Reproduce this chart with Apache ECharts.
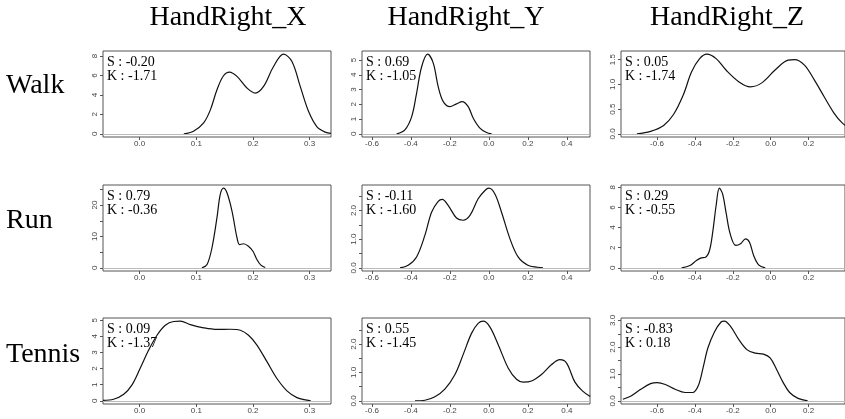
<!DOCTYPE html>
<html><head><meta charset="utf-8">
<script src="https://cdn.jsdelivr.net/npm/echarts@6/dist/echarts.min.js"></script>
<style>html,body{margin:0;padding:0;background:#fff}#c{width:845px;height:419px}</style>
</head><body><div id="c"></div>
<script>
const rowNames = ['Walk', 'Run', 'Tennis'];
const colNames = ['HandRight_X', 'HandRight_Y', 'HandRight_Z'];
const skewness = [['-0.20', '0.69', '0.05'], ['0.79', '-0.11', '0.29'], ['0.09', '0.55', '-0.83']];
const kurtosis = [['-1.71', '-1.05', '-1.74'], ['-0.36', '-1.60', '-0.55'], ['-1.37', '-1.45', '0.18']];

// x-axis limits and tick values per column
const xLimits = [[-0.0646, 0.3377], [-0.651, 0.519], [-0.790, 0.392]];
const xTicks = [[0.0, 0.1, 0.2, 0.3], [-0.6, -0.4, -0.2, 0.0, 0.2, 0.4], [-0.6, -0.4, -0.2, 0.0, 0.2]];

// density curves (value, density)
const walkX_x = [0.078, 0.095, 0.113, 0.125, 0.1365, 0.148, 0.1587, 0.1718, 0.1894, 0.204, 0.2187, 0.2363, 0.254, 0.2688, 0.2834, 0.298, 0.313, 0.3276, 0.3377];
const walkX_y = [0.0, 0.27, 1.13, 2.49, 4.54, 5.98, 6.36, 5.91, 4.72, 4.2, 4.88, 6.93, 8.2, 7.45, 4.88, 2.32, 0.72, 0.17, 0.05];
const walkY_x = [-0.473, -0.431, -0.396, -0.371, -0.345, -0.314, -0.285, -0.26, -0.234, -0.2, -0.166, -0.137, -0.106, -0.08, -0.046, -0.012, 0.014];
const walkY_y = [0.0, 0.27, 1.17, 2.75, 4.55, 5.4, 4.78, 3.2, 2.18, 1.84, 2.03, 2.18, 1.84, 1.06, 0.39, 0.09, 0.0];
const walkZ_x = [-0.706, -0.634, -0.565, -0.513, -0.461, -0.418, -0.375, -0.337, -0.288, -0.236, -0.167, -0.107, -0.047, 0.023, 0.092, 0.126, 0.178, 0.23, 0.282, 0.334, 0.377, 0.42];
const walkZ_y = [0.0, 0.05, 0.17, 0.39, 0.79, 1.25, 1.52, 1.61, 1.52, 1.29, 1.05, 0.95, 1.03, 1.29, 1.49, 1.5, 1.39, 1.09, 0.75, 0.42, 0.22, 0.1];
const runX_x = [0.11, 0.119, 0.1277, 0.1365, 0.1423, 0.148, 0.154, 0.163, 0.1718, 0.1764, 0.1834, 0.192, 0.2, 0.207, 0.214, 0.2217];
const runX_y = [0.0, 1.05, 6.4, 16.0, 23.4, 25.4, 24.0, 18.1, 9.6, 7.4, 7.67, 6.9, 5.3, 2.65, 0.84, 0.1];
const runY_x = [-0.456, -0.414, -0.371, -0.328, -0.294, -0.26, -0.239, -0.209, -0.166, -0.132, -0.097, -0.055, -0.02, 0.0, 0.031, 0.065, 0.108, 0.15, 0.2, 0.25, 0.278];
const runY_y = [0.0, 0.09, 0.38, 1.14, 1.94, 2.32, 2.39, 2.18, 1.74, 1.66, 1.83, 2.41, 2.7, 2.78, 2.58, 1.94, 1.02, 0.38, 0.09, 0.02, 0.0];
const runZ_x = [-0.47, -0.426, -0.392, -0.366, -0.344, -0.323, -0.306, -0.288, -0.271, -0.254, -0.236, -0.214, -0.184, -0.159, -0.133, -0.112, -0.09, -0.064, -0.029];
const runZ_y = [0.0, 0.23, 0.73, 0.99, 1.05, 1.72, 3.54, 6.19, 7.91, 7.35, 5.53, 3.38, 2.22, 2.39, 2.88, 2.54, 1.22, 0.3, 0.0];
const tenX_x = [-0.0646, -0.046, -0.028, -0.0134, 0.001, 0.016, 0.0307, 0.0453, 0.06, 0.0718, 0.0894, 0.113, 0.1365, 0.16, 0.1776, 0.1922, 0.207, 0.2247, 0.242, 0.26, 0.2776, 0.295, 0.302];
const tenX_y = [0.03, 0.1, 0.41, 0.99, 2.02, 3.15, 4.07, 4.69, 4.92, 4.94, 4.73, 4.53, 4.43, 4.44, 4.38, 4.07, 3.46, 2.43, 1.4, 0.62, 0.2, 0.04, 0.0];
const tenY_x = [-0.379, -0.328, -0.277, -0.226, -0.174, -0.132, -0.089, -0.055, -0.029, 0.005, 0.048, 0.099, 0.142, 0.176, 0.219, 0.27, 0.322, 0.364, 0.398, 0.441, 0.48, 0.52];
const tenY_y = [0.0, 0.02, 0.14, 0.41, 0.93, 1.63, 2.38, 2.73, 2.81, 2.61, 1.98, 1.16, 0.76, 0.66, 0.7, 0.93, 1.28, 1.45, 1.34, 0.67, 0.35, 0.15];
const tenZ_x = [-0.78, -0.737, -0.686, -0.634, -0.599, -0.556, -0.504, -0.452, -0.412, -0.383, -0.357, -0.332, -0.297, -0.262, -0.245, -0.21, -0.167, -0.124, -0.081, -0.038, -0.003, 0.031, 0.066, 0.1, 0.144, 0.195];
const tenZ_y = [0.06, 0.18, 0.43, 0.64, 0.68, 0.61, 0.43, 0.31, 0.31, 0.55, 1.23, 1.96, 2.57, 2.94, 2.97, 2.76, 2.27, 1.9, 1.78, 1.74, 1.6, 1.17, 0.68, 0.31, 0.09, 0.0];

// y tick values and labelled ticks per panel (row-major)
const yTicks = [[0, 2, 4, 6, 8], [0, 1, 2, 3, 4, 5], [0, 0.5, 1, 1.5],
                [0, 5, 10, 15, 20, 25], [0, 0.5, 1, 1.5, 2, 2.5], [0, 2, 4, 6, 8],
                [0, 1, 2, 3, 4, 5], [0, 0.5, 1, 1.5, 2, 2.5], [0, 0.5, 1, 1.5, 2, 2.5, 3]];
const yLabels = [[0, 2, 4, 6, 8], [0, 1, 2, 3, 4, 5], [0, 0.5, 1, 1.5],
                 [0, 10, 20], [0, 1, 2], [0, 2, 4, 6, 8],
                 [0, 1, 2, 3, 4, 5], [0, 1, 2], [0, 1, 2, 3]];
const yDecimals = [0, 0, 1, 0, 1, 0, 0, 1, 1];

const curvesX = [walkX_x, walkY_x, walkZ_x, runX_x, runY_x, runZ_x, tenX_x, tenY_x, tenZ_x];
const curvesY = [walkX_y, walkY_y, walkZ_y, runX_y, runY_y, runZ_y, tenX_y, tenY_y, tenZ_y];

const colLeft = [103, 362, 621];
const rowTop = [51, 185, 318];
const boxW = 228, boxH = 86;
const tickFont = 'Liberation Sans, Arial, sans-serif';
const serif = 'Liberation Serif, Times New Roman, serif';

const grids = [], xAxes = [], yAxes = [], series = [], graphics = [];
for (let r = 0; r < 3; r++) {
  for (let c = 0; c < 3; c++) {
    const i = r * 3 + c;
    const ys = curvesY[i];
    const M = Math.max.apply(null, ys);
    grids.push({left: colLeft[c], top: rowTop[r], width: boxW, height: boxH, show: true,
                borderColor: '#555', borderWidth: 1, backgroundColor: 'transparent'});
    xAxes.push({type: 'value', gridIndex: i, min: xLimits[c][0], max: xLimits[c][1], position: 'bottom',
      axisLine: {show: false, onZero: false}, splitLine: {show: false},
      axisTick: {show: true, length: 3, customValues: xTicks[c], lineStyle: {color: '#555'}},
      axisLabel: {customValues: xTicks[c], formatter: v => Number(v).toFixed(1), fontSize: 8,
                  color: '#444', margin: 3, fontFamily: tickFont}});
    const dec = yDecimals[i];
    yAxes.push({type: 'value', gridIndex: i, min: -0.04 * M, max: 1.04 * M, position: 'left',
      axisLine: {show: false, onZero: false}, splitLine: {show: false},
      axisTick: {show: true, length: 3, customValues: yTicks[i], lineStyle: {color: '#555'}},
      axisLabel: {customValues: yLabels[i], formatter: v => Number(v).toFixed(dec), fontSize: 8,
                  color: '#444', margin: 4, rotate: 90, fontFamily: tickFont}});
    series.push({type: 'line', xAxisIndex: i, yAxisIndex: i,
      data: curvesX[i].map((x, j) => [x, ys[j]]),
      showSymbol: false, smooth: 0.35, clip: true,
      lineStyle: {color: '#111', width: 1.2},
      markLine: {silent: true, symbol: ['none', 'none'], label: {show: false},
                 lineStyle: {color: '#bbb', type: 'solid', width: 1}, data: [{yAxis: 0}]}});
    graphics.push({type: 'text', left: colLeft[c] + 4, top: rowTop[r] + 4,
      style: {text: 'S : ' + skewness[r][c], font: '14px ' + serif, fill: '#000'}});
    graphics.push({type: 'text', left: colLeft[c] + 4, top: rowTop[r] + 18,
      style: {text: 'K : ' + kurtosis[r][c], font: '14px ' + serif, fill: '#000'}});
  }
}
const titleCx = [228, 466, 727];
for (let c = 0; c < 3; c++) {
  graphics.push({type: 'text', x: titleCx[c], y: 18,
    style: {text: colNames[c], font: '28px ' + serif, fill: '#000', textAlign: 'center', textVerticalAlign: 'middle'}});
}
const rowCy = [86, 221, 355];
for (let r = 0; r < 3; r++) {
  graphics.push({type: 'text', x: 6, y: rowCy[r],
    style: {text: rowNames[r], font: '28px ' + serif, fill: '#000', textAlign: 'left', textVerticalAlign: 'middle'}});
}

const chart = echarts.init(document.getElementById('c'), null, {renderer: 'canvas'});
chart.setOption({
  animation: false,
  backgroundColor: '#fff',
  grid: grids, xAxis: xAxes, yAxis: yAxes, series: series,
  graphic: graphics
});
</script>
</body></html>
